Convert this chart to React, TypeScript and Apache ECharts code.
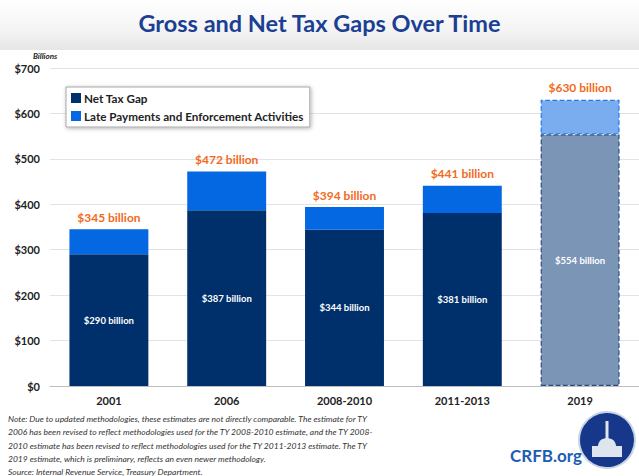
import React, { useEffect, useRef } from "react";
import * as echarts from "echarts";

const categories = ["2001", "2006", "2008-2010", "2011-2013", "2019"];
const netTaxGap = [290, 387, 344, 381, 554];
const latePayments = [55, 85, 50, 60, 76];
const grossTaxGap = [345, 472, 394, 441, 630];
const yTicks = [0, 100, 200, 300, 400, 500, 600, 700];

const noteLines = [
  "Note: Due to updated methodologies, these estimates are not directly comparable. The estimate for TY",
  "2006 has been revised to reflect methodologies used for the TY 2008-2010 estimate, and the TY 2008-",
  "2010 estimate has been revised to reflect methodologies used for the TY 2011-2013 estimate. The TY",
  "2019 estimate, which is preliminary, reflects an even newer methodology.",
  "Source: Internal Revenue Service, Treasury Department.",
];

const FONT = "Lato, 'Open Sans', sans-serif";

export default function App() {
  const ref = useRef<HTMLDivElement>(null);
  useEffect(() => {
    document.body.style.margin = "0";
    const chart = echarts.init(ref.current!, null, { renderer: "svg" });
    const last = categories.length - 1;
    const netData = netTaxGap.map((v, i) =>
      i === last
        ? {
            value: v,
            itemStyle: {
              color: "#7b95b6",
              borderColor: "#2b4c80",
              borderWidth: 1.2,
              borderType: "dashed",
            },
          }
        : v
    );
    const lateData = latePayments.map((v, i) =>
      i === last
        ? {
            value: v,
            itemStyle: {
              color: "#79adef",
              borderColor: "#2478e8",
              borderWidth: 1.2,
              borderType: "dashed",
            },
          }
        : v
    );
    const graphics: any[] = [
      {
        type: "rect",
        shape: { x: 0, y: 0, width: 639, height: 50 },
        style: {
          fill: new echarts.graphic.LinearGradient(0, 0, 0, 1, [
            { offset: 0, color: "#ffffff" },
            { offset: 0.6, color: "#f4f4f4" },
            { offset: 1, color: "#e6e6e6" },
          ]),
        },
        z: -10,
      },
      {
        type: "text",
        x: 33,
        y: 52,
        style: {
          text: "Billions",
          font: `italic bold 8px ${FONT}`,
          fill: "#222",
        },
      },
      ...noteLines.map((t, i) => ({
        type: "text",
        x: 8,
        y: 419 + i * 13.3,
        style: {
          text: t,
          font: `italic 8.5px ${FONT}`,
          fill: "#333",
          verticalAlign: "middle",
        },
      })),
      {
        type: "text",
        x: 510,
        y: 455,
        style: {
          text: "CRFB.org",
          font: `bold 17px ${FONT}`,
          fill: "#1c5cb3",
          verticalAlign: "middle",
        },
      },
      {
        type: "circle",
        shape: { cx: 607, cy: 440, r: 28 },
        style: { fill: "#17388a", stroke: "#c9d3e6", lineWidth: 2 },
      },
      {
        type: "rect",
        shape: { x: 592, y: 446, width: 30, height: 11 },
        style: { fill: "#dfe5ef" },
      },
      {
        type: "ellipse",
        shape: { cx: 607, cy: 446, rx: 9, ry: 8 },
        style: { fill: "#dfe5ef" },
      },
      {
        type: "rect",
        shape: { x: 605.5, y: 421, width: 3, height: 18 },
        style: { fill: "#dfe5ef" },
      },
    ];
    chart.setOption({
      animation: false,
      backgroundColor: "#ffffff",
      title: {
        text: "Gross and Net Tax Gaps Over Time",
        left: "center",
        top: 6,
        textStyle: {
          fontFamily: FONT,
          fontWeight: "bold",
          fontSize: 23.5,
          color: "#1b3f93",
        },
      },
      legend: {
        orient: "vertical",
        left: 66,
        top: 87,
        itemWidth: 10,
        itemHeight: 10,
        itemGap: 6,
        padding: [5, 6, 5, 5],
        backgroundColor: "#ffffff",
        borderColor: "#a8a8a8",
        borderWidth: 1,
        shadowColor: "rgba(0,0,0,0.3)",
        shadowBlur: 4,
        shadowOffsetX: 1,
        shadowOffsetY: 1,
        icon: "rect",
        textStyle: {
          fontFamily: FONT,
          fontWeight: "bold",
          fontSize: 11.7,
          color: "#222",
          padding: [0, 0, 0, -2],
        },
        data: ["Net Tax Gap", "Late Payments and Enforcement Activities"],
      },
      grid: { left: 50, right: 0, top: 68, bottom: 90, containLabel: false },
      xAxis: {
        type: "category",
        data: categories,
        axisTick: { show: false },
        axisLine: { lineStyle: { color: "#bdbdbd" } },
        axisLabel: {
          fontFamily: FONT,
          fontWeight: "bold",
          fontSize: 11,
          color: "#222",
          margin: 9,
        },
      },
      yAxis: {
        type: "value",
        min: yTicks[0],
        max: yTicks[yTicks.length - 1],
        interval: 100,
        splitLine: { lineStyle: { color: "#e3e3e3" } },
        axisLabel: {
          formatter: (v: number) => "$" + v,
          fontFamily: FONT,
          fontWeight: "bold",
          fontSize: 11,
          color: "#222",
          margin: 10,
        },
      },
      series: [
        {
          name: "Net Tax Gap",
          type: "bar",
          stack: "gap",
          barWidth: "67%",
          itemStyle: { color: "#00306b" },
          label: {
            show: true,
            position: "inside",
            formatter: (p: any) => "$" + netTaxGap[p.dataIndex] + " billion",
            fontFamily: FONT,
            fontWeight: "bold",
            fontSize: 9.5,
            color: "#ffffff",
          },
          data: netData,
        },
        {
          name: "Late Payments and Enforcement Activities",
          type: "bar",
          stack: "gap",
          barWidth: "67%",
          itemStyle: { color: "#0368e2" },
          label: {
            show: true,
            position: "top",
            distance: 6,
            formatter: (p: any) => "$" + grossTaxGap[p.dataIndex] + " billion",
            fontFamily: FONT,
            fontWeight: "bold",
            fontSize: 12,
            color: "#f26a1b",
          },
          data: lateData,
        },
      ],
      graphic: graphics,
    });
    return () => chart.dispose();
  }, []);
  return <div ref={ref} style={{ width: 639, height: 476 }} />;
}
